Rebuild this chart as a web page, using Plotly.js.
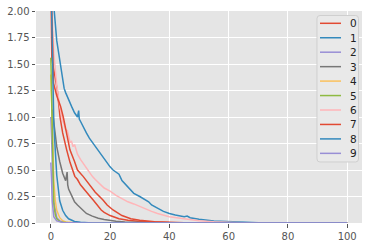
<!DOCTYPE html>
<html><head><meta charset="utf-8">
<script src="https://cdn.plot.ly/plotly-3.0.1.min.js"></script>
<style>html,body{margin:0;padding:0;background:#fff}#c{width:374px;height:247px}</style>
</head><body><div id="c"></div>
<script>
const names = ["0","1","2","3","4","5","6","7","8","9"];
const colors = ["#E24A33","#348ABD","#988ED5","#777777","#FBC15E","#8EBA42","#FFB5B8","#E24A33","#348ABD","#988ED5"];

const x0 = [0,0.3,1,2.2,3.1,4,5.35,6.5,8.1,9,10,11,12,13,14.3,15,16,17,18,20,23,26,30,40,60,100];
const y0 = [2.3,1.55,1.45,1.25,1.0,0.85,0.69,0.57,0.44,0.41,0.36,0.33,0.29,0.26,0.217,0.19,0.16,0.123,0.1,0.07,0.04,0.025,0.015,0.005,0.001,0];

const x1 = [0,1,2,3,4,4.5,5,6,7,8,9,9.4,9.6,10,11,12,13,14,15,16,17,18,19,20,21,22,23,24,25,26,27,28,30,32,33,34,36,38,40,42,45,46,47,50,55,60,66,70,100];
const y1 = [2.6,2.05,1.72,1.52,1.35,1.27,1.23,1.16,1.1,1.04,1.0,1.06,0.98,0.96,0.9,0.85,0.8,0.76,0.72,0.68,0.64,0.6,0.57,0.53,0.5,0.48,0.46,0.4,0.37,0.34,0.31,0.28,0.25,0.22,0.2,0.17,0.14,0.11,0.09,0.075,0.06,0.065,0.05,0.035,0.02,0.012,0.004,0.002,0];

const x2 = [0,0.5,1,2,3,5,10,100];
const y2 = [1.0,0.6,0.2,0.05,0.02,0.005,0.001,0];

const x3 = [0.5,1,2,3,4,5,5.5,5.7,6,7,8,9,10,12,14,16,18,20,22,25,28,35,50,100];
const y3 = [1.07,0.95,0.72,0.58,0.47,0.4,0.48,0.36,0.32,0.26,0.2,0.17,0.14,0.09,0.065,0.045,0.033,0.022,0.016,0.01,0.006,0.002,0.001,0];

const x4 = [0,0.5,1,1.5,2,3,4,5,7,10,100];
const y4 = [1.4,0.75,0.4,0.21,0.12,0.05,0.022,0.01,0.004,0.001,0];

const x5 = [0,0.5,1,1.5,2,3,4,6,10,100];
const y5 = [1.56,0.75,0.18,0.08,0.04,0.015,0.006,0.002,0.001,0];

const x6 = [0,1,2,3,4,5,5.6,6,6.5,7,7.5,8,9,10,11,12,13,14,15,16,17,18,20,22,24,26,28,30,32,34,36,38,40,45,50,55,60,65,100];
const y6 = [2.2,1.6,1.3,1.1,0.97,0.88,0.87,0.82,0.76,0.77,0.72,0.74,0.65,0.6,0.56,0.51,0.47,0.44,0.41,0.38,0.35,0.33,0.3,0.26,0.23,0.2,0.18,0.155,0.13,0.11,0.09,0.075,0.06,0.04,0.022,0.012,0.005,0.002,0];

const x7 = [0,0.6,0.9,2,3.3,4.2,5.3,6.45,8,9,10.9,13,15,17.6,19,21,24,27,30,35,45,100];
const y7 = [2.4,1.6,1.32,1.2,1.1,1.0,0.85,0.69,0.58,0.5,0.44,0.36,0.29,0.217,0.17,0.123,0.07,0.04,0.025,0.012,0.003,0];

const x8 = [0,0.5,1,1.5,2,3,4,5,6,8,10,14,100];
const y8 = [2.4,1.6,0.95,0.69,0.45,0.21,0.12,0.07,0.04,0.015,0.006,0.001,0];

const x9 = [0,0.5,1,2,4,10,100];
const y9 = [0.57,0.2,0.06,0.02,0.005,0.001,0];

const xs = [x0,x1,x2,x3,x4,x5,x6,x7,x8,x9];
const ys = [y0,y1,y2,y3,y4,y5,y6,y7,y8,y9];

const traces = names.map((n,i)=>({
  x: xs[i], y: ys[i], name: n, type: 'scatter', mode: 'lines',
  line: {color: colors[i], width: 1.5}, showlegend: false
}));

// plot-area geometry in px (for the hand-built matplotlib-style legend)
const W = 374, H = 247, ML = 36, MR = 12, MT = 11, MB = 24;
const PW = W - ML - MR, PH = H - MT - MB;
const px = v => (v - ML) / PW;
const py = v => (H - MB - v) / PH;

const shapes = [];
const annotations = [];
(function(){
  const L = 317, R = 358.5, T = 15.5, B = 162, r = 3;
  const p = (X,Y) => px(X).toFixed(5) + ',' + py(Y).toFixed(5);
  const path = 'M' + p(L+r,T) + ' L' + p(R-r,T) + ' Q' + p(R,T) + ' ' + p(R,T+r) +
    ' L' + p(R,B-r) + ' Q' + p(R,B) + ' ' + p(R-r,B) +
    ' L' + p(L+r,B) + ' Q' + p(L,B) + ' ' + p(L,B-r) +
    ' L' + p(L,T+r) + ' Q' + p(L,T) + ' ' + p(L+r,T) + ' Z';
  shapes.push({type:'path', xref:'paper', yref:'paper', path: path,
    fillcolor:'#E9E9E9', line:{color:'#CFCFCF', width:1}, layer:'above'});
})();
names.forEach((n,i)=>{
  const yc = 23.3 + 14.45*i;
  shapes.push({type:'line', xref:'paper', yref:'paper', x0: px(320), x1: px(341), y0: py(yc), y1: py(yc),
    line:{color: colors[i], width: 1.5}, layer:'above'});
  annotations.push({xref:'paper', yref:'paper', x: px(348), y: py(yc), xanchor:'left', yanchor:'middle',
    text: n, showarrow:false, font:{family:'DejaVu Sans', size:10.5, color:'#222222'}});
});

const axisCommon = {
  showgrid: true, gridcolor: '#ffffff', gridwidth: 1, zeroline: false,
  showline: false, ticks: 'outside', ticklen: 3.5, tickcolor: '#555555', tickwidth: 1,
  tickfont: {family: 'DejaVu Sans', size: 10, color: '#555555'}
};

const layout = {
  width: W, height: H,
  margin: {l: ML, r: MR, t: MT, b: MB, pad: 0},
  paper_bgcolor: '#ffffff', plot_bgcolor: '#E5E5E5',
  showlegend: false,
  xaxis: Object.assign({}, axisCommon, {range: [-5, 105], tickvals: [0,20,40,60,80,100], ticktext: ['0','20','40','60','80','100']}),
  yaxis: Object.assign({}, axisCommon, {range: [0, 2], tickvals: [0,0.25,0.5,0.75,1,1.25,1.5,1.75,2], ticktext: ['0.00','0.25','0.50','0.75','1.00','1.25','1.50','1.75','2.00']}),
  shapes: shapes, annotations: annotations
};

Plotly.newPlot('c', traces, layout, {staticPlot: true, displayModeBar: false});
</script>
</body></html>
